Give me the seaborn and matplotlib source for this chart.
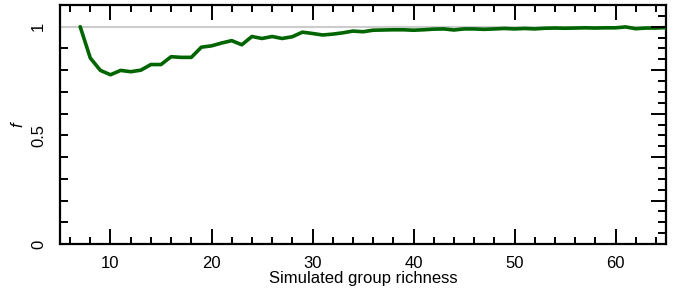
import numpy as np
import pandas as pd
import matplotlib
matplotlib.use("Agg")
import matplotlib.pyplot as plt
import seaborn as sns
from matplotlib.ticker import MultipleLocator, FixedLocator

# simulated group richness and fraction f
richness = list(range(7, 66))
f_values = [1.000, 0.856, 0.799, 0.779, 0.799, 0.793, 0.800, 0.826, 0.826, 0.862,
            0.859, 0.859, 0.906, 0.912, 0.925, 0.936, 0.917, 0.955, 0.946, 0.955,
            0.946, 0.954, 0.975, 0.969, 0.962, 0.966, 0.972, 0.980, 0.977, 0.984,
            0.985, 0.986, 0.986, 0.984, 0.986, 0.989, 0.990, 0.985, 0.990, 0.990,
            0.988, 0.990, 0.992, 0.990, 0.992, 0.990, 0.993, 0.994, 0.993, 0.994,
            0.995, 0.994, 0.995, 0.995, 0.999, 0.991, 0.994, 0.994, 0.996]

df = pd.DataFrame({"richness": richness, "f": f_values})

sns.set_style("white")
plt.rcParams['font.family'] = ['Liberation Sans', 'DejaVu Sans']
plt.rcParams['text.color'] = 'black'
plt.rcParams['axes.labelcolor'] = 'black'
plt.rcParams['xtick.color'] = 'black'
plt.rcParams['ytick.color'] = 'black'

fig = plt.figure(figsize=(6.81, 3.0), dpi=100)
ax = fig.add_axes([0.0881, 0.1867, 0.978 - 0.0881, 0.9833 - 0.1867])

ax.axhline(1.0, color="#cccccc", lw=1.5, zorder=1)
sns.lineplot(data=df, x="richness", y="f", color="#006400", lw=2.6, ax=ax, zorder=3)

ax.set_xlim(5, 65)
ax.set_ylim(0, 1.1)

for s in ax.spines.values():
    s.set_linewidth(1.6)
    s.set_color("black")

ax.xaxis.set_major_locator(MultipleLocator(10))
ax.xaxis.set_minor_locator(MultipleLocator(2))
ax.tick_params(axis="x", which="major", direction="in", length=11, width=1.4,
               top=True, bottom=True, labelsize=12, pad=9)
ax.tick_params(axis="x", which="minor", direction="in", length=5, width=1.4,
               top=True, bottom=True)

ax.yaxis.set_major_locator(FixedLocator([0, 0.5, 1]))
ax.yaxis.set_minor_locator(MultipleLocator(0.1))
ax.set_yticklabels(["0", "0.5", "1"], rotation=90, va="center")
ax.tick_params(axis="y", which="both", direction="in", length=6, width=1.4,
               left=True, right=False, labelsize=12, pad=10)

ax2 = ax.twinx()
ax2.set_ylim(0, 1.1)
ax2.yaxis.set_major_locator(MultipleLocator(0.2))
ax2.yaxis.set_minor_locator(MultipleLocator(0.05))
ax2.tick_params(axis="y", which="major", direction="in", length=11, width=1.4,
                labelright=False)
ax2.tick_params(axis="y", which="minor", direction="in", length=6, width=1.4)
for s in ax2.spines.values():
    s.set_visible(False)

ax.set_xlabel("Simulated group richness", fontsize=12, labelpad=0)
ax.set_ylabel("f", fontsize=12, fontstyle="italic", labelpad=4)

fig.savefig("out.png", dpi=100)
